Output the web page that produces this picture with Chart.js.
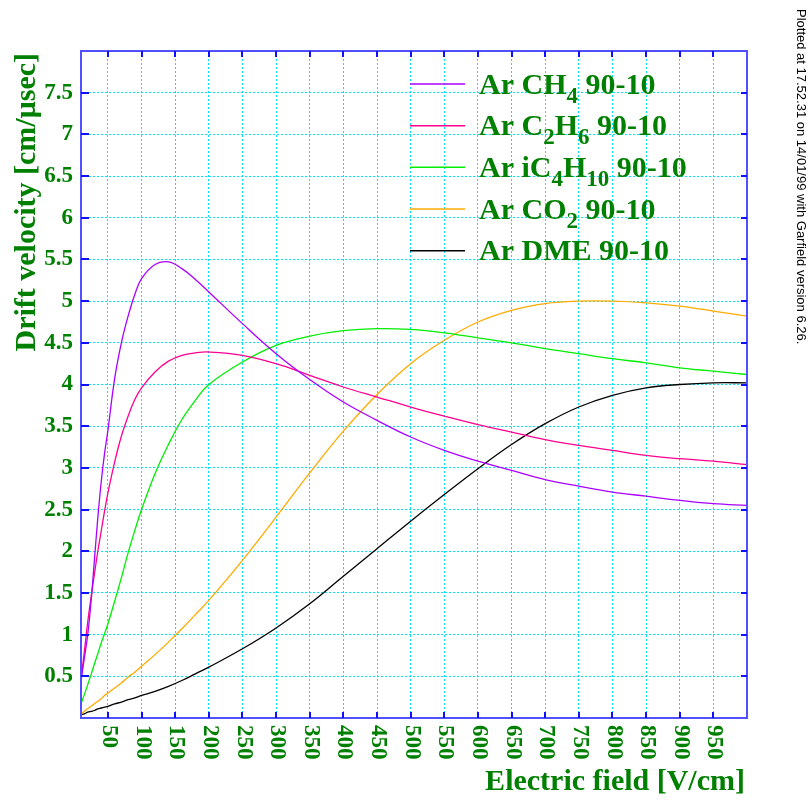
<!DOCTYPE html>
<html>
<head>
<meta charset="utf-8">
<script src="https://cdn.jsdelivr.net/npm/chart.js@4/dist/chart.umd.min.js"></script>
<style>
  html, body { margin: 0; padding: 0; background: #fff; }
</style>
</head>
<body>
<canvas id="chart" width="808" height="802"></canvas>
<script>
// electric field [V/cm]
const fieldValues = [10, 15, 20, 25, 30, 35, 40, 45, 50, 60, 70, 80, 90, 100, 120, 140, 160, 180, 200,
  250, 300, 350, 400, 450, 500, 550, 600, 650, 700, 750, 800, 850, 900, 950, 1000];

// drift velocity [cm/usec]
const ch4Values = [0.45, 0.72, 1.0, 1.4, 1.9, 2.4, 2.83, 3.17, 3.45, 4.07, 4.5, 4.82, 5.08, 5.27, 5.44, 5.47, 5.39, 5.26, 5.11,
  4.73, 4.37, 4.06, 3.79, 3.57, 3.37, 3.21, 3.08, 2.97, 2.86, 2.78, 2.71, 2.66, 2.61, 2.57, 2.55];
const c2h6Values = [0.45, 0.8, 1.15, 1.45, 1.73, 2.0, 2.24, 2.48, 2.7, 3.07, 3.38, 3.62, 3.82, 3.96, 4.15, 4.28, 4.35, 4.38, 4.39,
  4.35, 4.25, 4.11, 3.97, 3.85, 3.73, 3.62, 3.52, 3.43, 3.34, 3.27, 3.21, 3.15, 3.11, 3.08, 3.04];
const ic4h10Values = [0.17, 0.28, 0.4, 0.52, 0.65, 0.77, 0.9, 1.01, 1.13, 1.4, 1.68, 1.98, 2.25, 2.5, 2.93, 3.28, 3.58, 3.81, 4.0,
  4.27, 4.47, 4.58, 4.645, 4.67, 4.66, 4.62, 4.56, 4.5, 4.43, 4.37, 4.31, 4.26, 4.2, 4.16, 4.12];
const co2Values = [0.05, 0.08, 0.11, 0.14, 0.17, 0.2, 0.23, 0.27, 0.3, 0.36, 0.42, 0.49, 0.55, 0.62, 0.76, 0.91, 1.07, 1.24, 1.41,
  1.89, 2.41, 2.94, 3.44, 3.88, 4.25, 4.53, 4.75, 4.89, 4.97, 5.0, 5.0, 4.98, 4.94, 4.88, 4.82];
const dmeValues = [0.04, 0.05, 0.07, 0.08, 0.09, 0.11, 0.12, 0.13, 0.14, 0.17, 0.19, 0.22, 0.24, 0.27, 0.32, 0.38, 0.45, 0.53, 0.61,
  0.83, 1.08, 1.37, 1.7, 2.03, 2.36, 2.68, 2.99, 3.28, 3.53, 3.73, 3.87, 3.96, 4.0, 4.02, 4.02];

// "_n" marks a subscript
const seriesLabels = ['Ar CH_4 90-10', 'Ar C_2H_6 90-10', 'Ar iC_4H_10 90-10', 'Ar CO_2 90-10', 'Ar DME 90-10'];
const seriesColors = ['#aa00ff', '#ff0090', '#00ee00', '#ffaa00', '#000000'];
const seriesValues = [ch4Values, c2h6Values, ic4h10Values, co2Values, dmeValues];

const xTickLabels = [50, 100, 150, 200, 250, 300, 350, 400, 450, 500, 550, 600, 650, 700, 750, 800, 850, 900, 950];
const yTickLabels = [0.5, 1, 1.5, 2, 2.5, 3, 3.5, 4, 4.5, 5, 5.5, 6, 6.5, 7, 7.5];

const GREEN = '#008000';
const SERIF = '"Liberation Serif", "Times New Roman", serif';

function drawRich(ctx, str, x, y, size) {
  const parts = str.split(/_(\d+)/);
  parts.forEach((p, i) => {
    const sub = i % 2 === 1;
    ctx.font = 'bold ' + (sub ? Math.round(size * 0.75) : size) + 'px ' + SERIF;
    ctx.fillText(p, x, sub ? y + size * 0.3 : y);
    x += ctx.measureText(p).width;
  });
}

const garfieldDecor = {
  id: 'garfieldDecor',
  afterDraw(chart) {
    const { ctx, chartArea: a, scales: { x, y } } = chart;
    ctx.save();

    // frame
    ctx.strokeStyle = '#5050ff';
    ctx.lineWidth = 2;
    ctx.strokeRect(a.left, a.top, a.right - a.left, a.bottom - a.top);

    // inner tick marks
    ctx.strokeStyle = '#1010ff';
    ctx.lineWidth = 2;
    ctx.beginPath();
    xTickLabels.forEach(v => {
      const px = Math.round(x.getPixelForValue(v));
      ctx.moveTo(px, a.bottom); ctx.lineTo(px, a.bottom - 6);
      ctx.moveTo(px, a.top); ctx.lineTo(px, a.top + 6);
    });
    yTickLabels.forEach(v => {
      const py = Math.round(y.getPixelForValue(v));
      ctx.moveTo(a.left, py); ctx.lineTo(a.left + 8, py);
      ctx.moveTo(a.right, py); ctx.lineTo(a.right - 6, py);
    });
    ctx.stroke();

    // x tick labels, rotated clockwise
    ctx.fillStyle = GREEN;
    ctx.font = 'bold 23px ' + SERIF;
    ctx.textAlign = 'left';
    ctx.textBaseline = 'middle';
    xTickLabels.forEach(v => {
      const px = x.getPixelForValue(v);
      ctx.save();
      ctx.translate(px + 1, a.bottom + 7);
      ctx.rotate(Math.PI / 2);
      ctx.fillText(String(v), 0, 0);
      ctx.restore();
    });

    // axis titles
    ctx.font = 'bold 30px ' + SERIF;
    ctx.textAlign = 'right';
    ctx.textBaseline = 'alphabetic';
    ctx.fillText('Electric field [V/cm]', a.right - 2, 790);
    ctx.save();
    ctx.translate(35, a.top + 2);
    ctx.rotate(-Math.PI / 2);
    ctx.fillText('Drift velocity [cm/\u03bcsec]', 0, 0);
    ctx.restore();

    // legend
    seriesLabels.forEach((lab, i) => {
      const ly = 84 + i * 41.67;
      ctx.strokeStyle = seriesColors[i];
      ctx.lineWidth = 1.5;
      ctx.beginPath();
      ctx.moveTo(410, ly); ctx.lineTo(465, ly);
      ctx.stroke();
      ctx.fillStyle = GREEN;
      ctx.textAlign = 'left';
      drawRich(ctx, lab, 479, ly + 9.5, 30);
    });

    // side stamp
    ctx.fillStyle = '#000';
    ctx.font = '13px "Liberation Sans", Arial, sans-serif';
    ctx.textAlign = 'left';
    ctx.textBaseline = 'middle';
    ctx.save();
    ctx.translate(801, 9);
    ctx.rotate(Math.PI / 2);
    ctx.fillText('Plotted at 17.52.31 on 14/01/99 with Garfield version 6.26.', 0, 0);
    ctx.restore();

    ctx.restore();
  }
};

new Chart(document.getElementById('chart'), {
  type: 'line',
  data: {
    datasets: seriesLabels.map((lab, i) => ({
      label: lab.replace(/_/g, ''),
      data: fieldValues.map((f, j) => ({ x: f, y: seriesValues[i][j] })),
      borderColor: seriesColors[i],
      borderWidth: 1.3,
      pointRadius: 0,
      fill: false,
      tension: 0.4
    }))
  },
  options: {
    responsive: false,
    animation: false,
    events: [],
    layout: { padding: { top: 51, right: 61, left: 0, bottom: 0 } },
    plugins: {
      legend: { display: false },
      tooltip: { enabled: false }
    },
    scales: {
      x: {
        type: 'linear',
        min: 10,
        max: 1000,
        afterBuildTicks: scale => { scale.ticks = xTickLabels.map(v => ({ value: v })); },
        afterFit: scale => { scale.height = 84; },
        ticks: { display: false },
        grid: { color: '#00e5ff', lineWidth: 1, drawTicks: false },
        border: { display: false, dash: [2, 2] }
      },
      y: {
        min: 0,
        max: 8,
        afterBuildTicks: scale => { scale.ticks = yTickLabels.map(v => ({ value: v })); },
        afterFit: scale => { scale.width = 81; },
        ticks: {
          padding: 8,
          color: GREEN,
          font: { family: SERIF, size: 23, weight: 'bold' },
          callback: v => String(v)
        },
        grid: { color: '#00e5ff', lineWidth: 1, drawTicks: false },
        border: { display: false, dash: [2, 2] }
      }
    }
  },
  plugins: [garfieldDecor]
});
</script>
</body>
</html>
